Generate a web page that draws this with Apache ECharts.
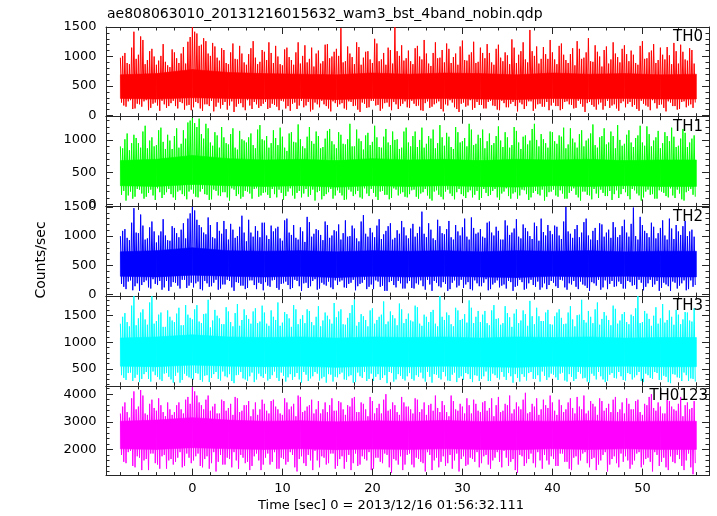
<!DOCTYPE html>
<html><head><meta charset="utf-8">
<script src="https://cdn.jsdelivr.net/npm/echarts@6/dist/echarts.min.js"></script>
<style>html,body{margin:0;padding:0;background:#fff}#c{width:717px;height:516px}</style>
</head><body><div id="c"></div>
<script>
// Within each 0.5 s block starting at tStart + 0.5k the samples are:
// Hi[k] (+0), Lo[k] (+0.125), Hi2[k] (+0.25), Lo2[k] (+0.375)
const tStart = -8, tSub = 0.125;
const bandTimes = [-8,-4,0,4,8,12,16,20,24,28,32,36,40,44,48,52,56];
const panelNames = ['TH0','TH1','TH2','TH3','TH0123'];
const titleText = 'ae808063010_20131216015632_wam3_bst_4band_nobin.qdp';
const xTitle = 'Time [sec] 0 = 2013/12/16 01:56:32.111';
const yTitle = 'Counts/sec';
const xTickLabels = [0,10,20,30,40,50];

const th0Hi = [
980,1060,870,1420,1030,1280,940,1130,860,1010,910,820,1070,890,1160,1250,
1500,1390,1200,1260,1010,1170,930,1110,870,1220,950,1050,860,1140,980,910,
1080,1240,890,1000,850,1150,940,1070,880,1190,960,830,1100,920,1210,1000,
1130,1480,920,1050,870,1160,980,1090,890,1220,950,860,1110,1500,1010,930,
1100,870,1180,950,1050,840,1240,980,900,1130,990,860,1270,930,1070,890,
1150,970,1060,860,1200,920,1020,1290,890,1090,950,1450,1010,880,1160,960,
1070,870,1220,940,1040,850,1130,980,1310,910,1080,830,1170,950,1050,900,
1190,920,1030,860,1260,970,1100,890,1150,950,1020,1230,880,1080,930,1110];
const th0Lo = [
220,150,260,120,190,240,90,200,170,250,130,210,160,230,100,180,
140,210,80,190,250,150,120,230,170,60,200,140,260,110,190,160,
230,130,180,90,240,160,200,110,250,170,70,220,140,190,120,240,
150,210,100,230,170,60,200,140,250,180,120,220,90,190,160,240,
130,200,170,80,240,150,210,110,190,260,140,60,220,170,100,230,
180,120,250,160,90,210,140,230,70,190,160,240,120,200,150,90,
220,160,110,240,180,130,200,60,230,150,190,100,250,170,120,210,
140,230,180,80,200,150,260,120,190,70,220,160,110,240,170,130];
const th0Hi2 = [
1010,890,1150,960,1340,870,1090,1000,930,1210,850,1120,970,1050,880,1330,
1420,1180,1310,1050,1230,980,1140,890,1070,960,1180,900,1040,1260,870,1110,
940,1060,1180,870,1120,990,860,1240,1010,900,1150,1050,880,1200,970,1080,
1010,900,1170,990,1240,860,1080,950,1300,920,1060,1150,880,1090,1190,970,
920,1140,1000,1280,880,1060,970,1110,1220,890,1050,1170,940,1030,1250,910,
1060,1210,900,1130,980,1070,870,1150,1030,1240,900,1090,1170,960,1040,1280,
950,1180,1030,890,1140,1260,960,1070,920,1190,1000,1110,880,1240,990,1130,
1040,1100,890,1180,960,1070,1210,940,1030,1160,870,1090,1200,950,1140,880];
const th0Lo2 = [
170,240,110,200,150,260,130,220,80,190,160,250,120,210,170,90,
230,120,190,160,70,220,180,100,240,150,210,90,170,230,130,200,
110,200,150,250,120,80,220,170,140,230,100,190,250,160,70,210,
190,120,240,160,100,220,130,250,170,80,210,150,230,110,200,140,
250,160,90,210,130,190,240,70,170,220,110,200,150,260,130,180,
120,230,170,100,250,140,200,160,220,110,240,80,190,150,230,170,
160,90,230,190,120,250,150,210,180,100,220,160,130,190,80,240,
200,150,110,250,170,90,210,180,130,240,160,100,230,140,190,220];
const th0BandTop = [690,710,780,730,710,700,690,720,700,720,710,690,720,700,710,690,700];
const th0BandBot = [290,280,300,290,280,290,270,290,280,290,280,270,290,280,290,280,280];

const th1Hi = [
900,1010,840,1080,950,1130,870,1040,920,1190,860,990,1060,880,1150,1270,
1340,1200,1090,1250,960,1120,880,1040,930,1180,850,1010,960,1100,870,1230,
990,880,1150,920,1050,830,1120,960,1010,870,1200,940,1060,890,1140,980,
870,1080,930,1250,900,1020,850,1110,970,1040,880,1170,920,1000,860,1130,
960,1060,890,1190,940,1020,870,1230,910,1050,860,1120,980,900,1160,940,
1030,870,1100,950,1210,890,1040,920,1140,860,1070,990,1250,900,1010,880,
1120,940,1050,870,1180,960,1090,900,1020,1240,880,1060,930,1130,870,1000,
940,1150,890,1070,960,1210,900,1040,870,1120,980,1050,910,1170,890,1020];
const th1Lo = [
150,60,200,120,230,90,180,140,250,100,190,160,70,220,130,200,
170,110,240,150,80,210,130,190,60,230,160,120,200,90,250,140,
190,100,160,230,70,200,140,180,110,240,150,60,210,130,190,90,
220,140,80,200,160,110,250,130,180,70,210,150,100,230,170,120,
160,230,90,190,140,60,220,120,200,170,80,240,130,190,110,210,
100,180,150,240,70,200,130,170,90,230,160,110,210,140,60,190,
230,120,170,90,210,150,60,200,140,240,100,180,130,70,220,160,
190,80,220,140,110,230,160,90,200,130,250,100,170,60,210,150];
const th1Hi2 = [
870,1100,950,1030,880,1220,990,900,1150,970,1080,860,1180,940,1020,1300,
1260,1330,1020,1180,910,1070,1200,950,1090,880,1140,990,1040,920,1160,1010,
1060,950,1030,1190,880,1100,970,1240,900,1050,980,1130,870,1020,1170,930,
1120,940,1010,900,1160,980,1070,920,1220,890,1050,960,1130,1010,880,1190,
900,1130,1000,880,1060,1160,950,1040,1110,890,1200,960,1030,1250,920,1080,
1160,980,920,1060,990,1120,880,1200,960,1050,930,1170,1000,1090,950,1130,
980,1070,1190,930,1020,880,1150,990,1100,920,1040,1180,960,1060,1230,910,
1080,960,1030,1220,910,1090,990,1140,950,1060,1190,890,1020,1110,960,1070];
const th1Lo2 = [
210,140,90,240,170,120,230,70,190,150,240,110,200,160,80,230,
120,200,160,70,230,140,190,110,250,130,90,210,170,240,120,180,
150,240,110,180,130,250,90,210,170,120,230,190,80,160,240,140,
180,70,230,130,210,90,170,240,120,200,150,80,250,140,190,110,
220,120,170,240,90,200,150,80,230,130,190,160,100,220,150,70,
240,130,210,110,170,250,90,190,140,220,70,180,160,230,120,200,
140,220,90,180,250,110,200,150,80,170,230,130,210,160,100,240,
130,240,170,60,200,150,90,220,180,110,140,230,80,190,240,120];
const th1BandTop = [680,700,760,710,690,700,680,710,690,700,680,700,690,700,680,690,690];
const th1BandBot = [290,280,310,290,280,290,270,290,280,290,280,270,290,280,290,280,280];

const th2Hi = [
1000,1120,930,1480,1050,1180,960,1250,890,1080,1010,920,1140,980,1220,1300,
1500,1280,1150,1030,1190,960,1090,1260,940,1110,1000,1350,910,1060,1170,980,
1230,950,1080,1160,920,1300,1020,970,1150,900,1240,1040,1100,930,1190,1010,
1080,940,1270,1000,1130,910,1360,990,1060,1180,950,1090,1220,970,1040,1150,
960,1210,1050,1420,980,1110,930,1170,1030,1260,940,1080,1150,990,1320,1040,
1120,970,1250,1010,1090,940,1180,1060,1290,960,1140,1000,1230,920,1070,1190,
1030,1160,950,1500,1040,1120,980,1240,1010,1090,930,1200,1060,970,1150,1020,
1280,990,1490,940,1190,1050,1230,960,1140,1010,1300,950,1080,1170,1000,1110];
const th2Lo = [
180,90,240,140,60,210,120,260,160,80,230,130,200,100,250,150,
120,220,70,190,140,250,100,170,230,60,200,150,110,240,90,180,
210,130,250,80,190,160,110,230,60,200,140,260,100,170,220,90,
160,240,110,200,70,180,250,130,90,220,150,60,230,120,190,100,
230,100,170,140,250,60,200,120,180,90,240,150,110,210,70,190,
140,260,90,200,120,170,230,60,150,210,100,250,130,80,190,160,
200,110,240,80,170,130,220,150,60,190,250,120,90,230,140,180,
100,210,160,250,70,190,130,230,110,170,60,200,150,240,90,130];
const th2Hi2 = [
1090,970,1230,1060,1370,940,1150,1080,1010,1290,930,1170,1050,1110,960,1390,
1440,1190,1060,1320,980,1240,1040,1120,1210,970,1160,1060,1280,990,1090,1230,
1010,1180,1130,960,1270,1060,1190,940,1080,1330,990,1120,1020,1250,970,1100,
1200,1050,990,1180,960,1250,1040,1140,980,1290,1030,1170,940,1100,1260,1010,
1130,990,1160,1040,1220,960,1280,1050,1120,980,1190,1010,1300,940,1140,1060,
990,1230,1060,1160,940,1270,1020,1130,990,1200,1080,950,1170,1300,1010,1090,
1180,1010,1250,1080,970,1190,1060,1300,940,1140,1220,990,1110,1240,980,1170,
1060,1210,1000,1330,1090,980,1160,1050,1270,940,1130,1190,1020,1260,1080,990];
const th2Lo2 = [
130,220,70,190,160,240,100,180,230,120,60,210,150,250,110,200,
190,90,230,130,200,80,170,250,120,210,150,90,240,160,200,70,
150,240,110,180,220,90,250,140,190,110,230,80,200,150,120,240,
220,120,180,250,140,200,90,170,240,130,60,210,160,230,100,190,
110,190,240,80,170,230,140,210,60,200,120,250,170,90,240,140,
200,70,170,240,150,100,210,130,250,80,190,160,220,120,90,230,
140,250,120,190,230,90,170,110,210,150,80,240,180,130,220,100,
230,150,90,200,130,250,170,60,200,140,220,100,190,70,240,160];
const th2BandTop = [730,750,800,750,740,750,730,750,740,750,730,750,740,750,730,740,740];
const th2BandBot = [310,300,330,310,300,310,290,310,300,310,300,290,310,300,310,300,300];

const th3Hi = [
1350,1550,1300,1870,1450,1620,1330,1870,1400,1560,1290,1480,1380,1650,1320,1520,
1430,1700,1360,1540,1280,1610,1450,1340,1580,1300,1720,1420,1510,1350,1640,1390,
1560,1310,1480,1750,1370,1530,1290,1620,1440,1360,1590,1320,1680,1410,1500,1350,
1470,1620,1330,1550,1800,1380,1490,1300,1640,1420,1520,1340,1580,1450,1730,1360,
1540,1390,1660,1310,1480,1570,1350,1870,1420,1510,1300,1600,1440,1370,1650,1480,
1380,1590,1320,1700,1450,1360,1550,1290,1620,1410,1530,1780,1340,1490,1400,1610,
1330,1560,1460,1350,1680,1300,1520,1420,1590,1360,1750,1440,1500,1320,1630,1410,
1570,1340,1490,1870,1380,1540,1310,1660,1450,1370,1600,1330,1520,1430,1560,1390];
const th3Lo = [
380,290,430,330,250,400,310,450,350,270,420,300,370,240,410,340,
300,410,260,380,330,440,280,360,400,230,390,320,270,430,300,360,
410,310,450,270,370,340,290,420,240,390,320,440,280,350,400,260,
340,430,290,380,250,360,440,310,270,400,330,230,420,300,370,280,
420,280,350,320,440,240,390,300,360,270,430,330,290,400,250,370,
310,450,270,380,300,350,420,240,330,400,280,440,310,260,370,340,
390,290,430,260,350,310,410,330,240,370,440,300,270,420,320,360,
280,400,340,440,250,380,310,420,290,350,230,390,330,430,270,310];
const th3Hi2 = [
1480,1380,1690,1320,1560,1430,1750,1350,1520,1290,1600,1410,1540,1320,1700,1460,
1620,1390,1530,1800,1410,1500,1340,1660,1380,1550,1310,1620,1440,1580,1360,1690,
1350,1600,1420,1310,1570,1450,1700,1340,1510,1620,1380,1480,1300,1560,1430,1740,
1580,1340,1460,1700,1310,1530,1420,1600,1350,1480,1770,1390,1510,1320,1620,1440,
1410,1690,1350,1520,1380,1610,1300,1480,1560,1340,1650,1420,1530,1790,1360,1590,
1520,1360,1600,1440,1330,1680,1470,1540,1360,1600,1310,1490,1650,1400,1560,1340,
1490,1620,1340,1560,1430,1510,1800,1370,1480,1620,1330,1570,1420,1690,1350,1530,
1380,1520,1640,1360,1590,1440,1500,1350,1720,1420,1480,1610,1340,1570,1410,1640];
const th3Lo2 = [
330,420,270,390,310,440,260,380,300,410,350,240,430,290,370,320,
420,290,370,250,400,310,450,340,270,380,440,300,360,250,410,330,
280,380,330,430,260,400,350,300,440,270,360,410,320,240,390,350,
400,300,360,240,430,330,270,410,350,290,380,440,260,400,310,360,
310,380,430,260,350,400,330,440,280,390,250,360,420,310,380,270,
360,270,410,330,440,290,360,400,260,350,420,310,380,450,290,410,
340,410,280,400,270,440,320,260,410,300,360,250,390,330,440,290,
420,300,380,270,410,330,440,290,370,250,400,340,270,380,320,260];
const th3BandTop = [1080,1100,1140,1100,1090,1100,1080,1100,1090,1100,1080,1100,1090,1100,1080,1090,1090];
const th3BandBot = [550,540,570,550,540,550,530,550,540,550,540,530,550,540,550,540,540];

const th0123Hi = [
3300,3700,3150,4100,3550,3950,3250,3800,3400,3600,3200,3450,3350,3700,3300,3900,
4250,3950,3600,3800,3400,3650,3300,3750,3500,3250,3850,3400,3600,3200,3700,3450,
3650,3300,3800,3450,3250,3700,3550,3200,3900,3400,3600,3300,3750,3450,3350,3850,
3400,3700,3250,3550,3900,3350,3650,3200,3750,3500,3300,4000,3450,3600,3250,3700,
3550,3300,3800,3450,3250,3650,3950,3350,3600,3200,3750,3400,3550,3850,3300,3650,
3350,3750,3500,3200,3900,3400,3600,3300,3700,3450,4050,3350,3550,3250,3800,3500,
3700,3250,3600,3450,3850,3300,3550,3950,3400,3650,3250,3750,3500,3350,3900,3450,
3300,3650,3450,3800,3250,3600,4000,3400,3550,3300,3750,3450,3650,3200,3700,3500];
const th0123Lo = [
1800,1500,1950,1350,1700,1600,1250,1850,1450,1750,1300,1650,1550,1900,1400,1700,
1600,1850,1350,1750,1500,1200,1800,1450,1650,1900,1300,1700,1550,1400,1850,1250,
1700,1450,1900,1300,1650,1550,1800,1200,1750,1400,1600,1950,1350,1700,1500,1850,
1400,1750,1550,1250,1850,1450,1650,1900,1300,1700,1500,1800,1150,1600,1750,1450,
1850,1350,1650,1500,1900,1250,1700,1550,1400,1800,1600,1200,1750,1450,1650,1900,
1500,1800,1300,1700,1550,1950,1400,1650,1150,1750,1500,1850,1350,1600,1800,1450,
1650,1400,1850,1550,1250,1750,1600,1900,1350,1700,1450,1800,1200,1650,1500,1850,
1750,1300,1600,1900,1450,1700,1200,1800,1550,1350,1750,1500,1650,1250,1850,1100];
const th0123Hi2 = [
3550,3350,3850,3450,4150,3300,3650,3500,3850,3350,3700,3250,3600,3450,3800,3650,
4100,3700,3450,3950,3550,3300,3800,3400,3650,3900,3350,3600,3750,3450,3250,3800,
3400,3750,3550,3300,3850,3450,3650,3950,3350,3550,3800,3450,3300,3700,3600,3400,
3750,3450,3600,3850,3350,3700,3450,3900,3300,3650,3800,3400,3700,3350,3900,3550,
3450,3850,3350,3700,3600,3400,3500,3750,3350,3950,3450,3650,3300,3600,3800,3400,
3700,3400,3850,3600,3350,3650,3950,3450,3550,3800,3300,3650,3850,3450,3600,3950,
3400,3800,3350,3700,3500,3900,3450,3300,3750,3550,3850,3400,3650,3800,3350,3700,
3850,3450,3750,3350,3650,3900,3500,3700,3300,3800,3550,3400,3900,3600,3450,3750];
const th0123Lo2 = [
1550,1900,1400,1750,1250,1650,1850,1500,1300,1800,1600,1450,1700,1350,1850,1500,
1750,1400,1650,1300,1900,1550,1450,1700,1350,1600,1800,1500,1250,1750,1600,1450,
1850,1550,1300,1700,1450,1900,1350,1650,1500,1800,1250,1600,1750,1450,1850,1300,
1650,1300,1800,1500,1400,1750,1600,1250,1700,1550,1850,1350,1650,1450,1250,1800,
1450,1700,1550,1200,1800,1600,1350,1750,1500,1300,1850,1650,1400,1700,1550,1350,
1750,1450,1600,1900,1350,1700,1550,1250,1800,1400,1650,1500,1900,1300,1600,1750,
1400,1850,1550,1300,1700,1450,1850,1500,1650,1250,1600,1900,1450,1750,1350,1550,
1600,1450,1850,1350,1650,1550,1900,1400,1700,1250,1550,1800,1400,1600,1350,1500];
const th0123BandTop = [3020,3060,3150,3060,3020,3040,3000,3040,3020,3050,3010,3030,3020,3040,3010,3020,3020];
const th0123BandBot = [2020,2000,2060,2020,2000,2020,1990,2010,2000,2020,2000,1990,2020,2000,2020,2000,2000];

const his = [th0Hi, th1Hi, th2Hi, th3Hi, th0123Hi];
const los = [th0Lo, th1Lo, th2Lo, th3Lo, th0123Lo];
const his2 = [th0Hi2, th1Hi2, th2Hi2, th3Hi2, th0123Hi2];
const los2 = [th0Lo2, th1Lo2, th2Lo2, th3Lo2, th0123Lo2];
const bandTops = [th0BandTop, th1BandTop, th2BandTop, th3BandTop, th0123BandTop];
const bandBots = [th0BandBot, th1BandBot, th2BandBot, th3BandBot, th0123BandBot];

// axis ranges and styling (not data)
const yMin = [-20, -30, -30, 180, 1050];
const yMax = [1500, 1360, 1510, 1870, 4300];
const yStep = [500, 500, 500, 500, 1000];
const colors = ['#ff0000', '#00ff00', '#0000ff', '#00ffff', '#ff00ff'];
const gridTop = [27, 116.7, 206.4, 296.1, 385.9];
const gridH = 89.7;
const FONT = '"DejaVu Sans", sans-serif';
const AX = '#262626';

const grid = [], xAxis = [], yAxis = [], series = [];
for (let i = 0; i < 5; i++) {
  grid.push({left: 106, width: 603, top: gridTop[i], height: gridH});
  const xa = (pos, labels) => ({
    gridIndex: i, type: 'value', position: pos, min: -9.6, max: 57.4, splitNumber: 5,
    axisLine: {show: true, onZero: false, lineStyle: {color: AX, width: 1}},
    axisTick: {show: true, inside: true, length: 7, lineStyle: {color: AX}},
    minorTick: {show: true, splitNumber: 5, length: 3.5, lineStyle: {color: AX}},
    splitLine: {show: false}, minorSplitLine: {show: false},
    axisLabel: {show: labels, margin: 7, color: '#000', fontSize: 13, fontFamily: FONT,
      showMinLabel: false, showMaxLabel: false,
      formatter: v => (xTickLabels.indexOf(Math.round(v * 1000) / 1000) >= 0 ? String(v) : '')}
  });
  xAxis.push(xa('bottom', i === 4));
  xAxis.push(xa('top', false));
  const ya = (pos, labels) => ({
    gridIndex: i, type: 'value', position: pos, min: yMin[i], max: yMax[i], splitNumber: 3,
    axisLine: {show: true, onZero: false, lineStyle: {color: AX, width: 1}},
    axisTick: {show: true, inside: true, length: 7, lineStyle: {color: AX}},
    minorTick: {show: true, splitNumber: 5, length: 3.5, lineStyle: {color: AX}},
    splitLine: {show: false}, minorSplitLine: {show: false},
    axisLabel: {show: labels, margin: 9.5, color: '#000', fontSize: 13, fontFamily: FONT,
      formatter: v => (Math.abs(v % yStep[i]) < 1e-6 ? String(v) : '')}
  });
  yAxis.push(ya('left', true));
  yAxis.push(ya('right', false));

  const bandData = [], zz = [];
  for (let b = 0; b < bandTimes.length - 1; b++) {
    bandData.push([bandTimes[b], bandBots[i][b], bandTops[i][b],
                   bandTimes[b + 1], bandBots[i][b + 1], bandTops[i][b + 1]]);
  }
  for (let k = 0; k < his[i].length; k++) {
    const t0 = tStart + 4 * k * tSub;
    zz.push([t0, his[i][k]]);
    zz.push([t0 + tSub, los[i][k]]);
    zz.push([t0 + 2 * tSub, his2[i][k]]);
    zz.push([t0 + 3 * tSub, los2[i][k]]);
  }
  const col = colors[i];
  series.push({type: 'custom', xAxisIndex: 2 * i, yAxisIndex: 2 * i, data: bandData,
    encode: {x: [0, 3], y: [1, 2, 4, 5]}, clip: true, silent: true, z: 2,
    renderItem: (params, api) => {
      const a = api.coord([api.value(0), api.value(2)]);
      const b = api.coord([api.value(3), api.value(5)]);
      const c = api.coord([api.value(3), api.value(4)]);
      const d = api.coord([api.value(0), api.value(1)]);
      return {type: 'polygon', shape: {points: [a, b, c, d]},
        style: {fill: col, stroke: col, lineWidth: 0.6}};
    }});
  series.push({type: 'line', xAxisIndex: 2 * i, yAxisIndex: 2 * i, data: zz,
    symbol: 'none', sampling: null, lineStyle: {color: col, width: 1}, silent: true, z: 3});
}

const labelRight = [703, 703, 703, 703, 708];
const graphic = [
  {type: 'text', x: 107, y: 14.5, style: {text: titleText, fill: '#000', font: '14px ' + FONT, align: 'left', verticalAlign: 'middle'}},
  {type: 'text', x: 258, y: 505.5, style: {text: xTitle, fill: '#000', font: '13px ' + FONT, align: 'left', verticalAlign: 'middle'}},
  {type: 'text', x: 41, y: 260, rotation: Math.PI / 2, style: {text: yTitle, fill: '#000', font: '14px ' + FONT, align: 'center', verticalAlign: 'middle'}}
];
for (let i = 0; i < 5; i++) {
  graphic.push({type: 'text', x: labelRight[i], y: gridTop[i] + 10.5, z: 10,
    style: {text: panelNames[i], fill: '#000', font: '15px ' + FONT, align: 'right', verticalAlign: 'middle'}});
}

const chart = echarts.init(document.getElementById('c'), null, {renderer: 'canvas'});
chart.setOption({animation: false, backgroundColor: '#fff', grid, xAxis, yAxis, series, graphic});
</script></body></html>
